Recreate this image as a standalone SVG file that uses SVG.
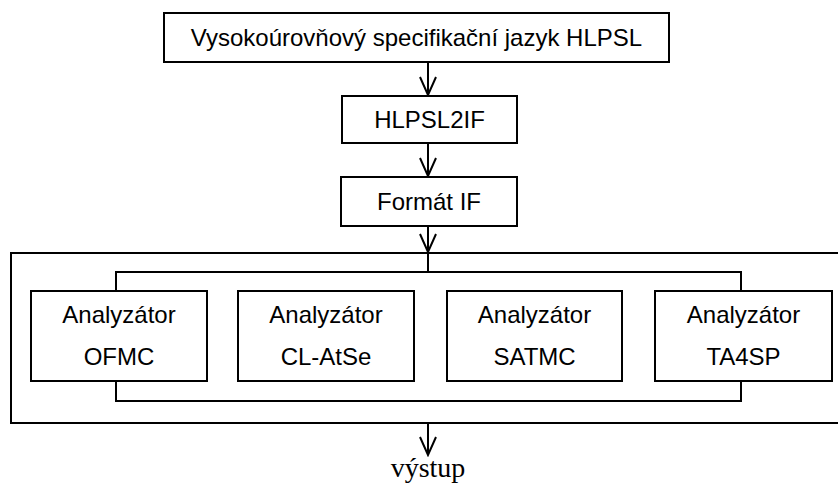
<svg xmlns="http://www.w3.org/2000/svg" width="838" height="484" viewBox="0 0 838 484">
  <style>
    .box { fill: #fff; stroke: #000; stroke-width: 2; }
    .frame { fill: none; stroke: #000; stroke-width: 2; }
    .wire { fill: none; stroke: #000; stroke-width: 2; }
    .lbl { font-family: "Liberation Sans", Arial, sans-serif; font-size: 24px; fill: #000; text-anchor: middle; }
    .out { font-family: "Liberation Serif", "Times New Roman", serif; font-size: 28px; fill: #000; text-anchor: middle; }
  </style>
  <defs>
    <marker id="vhead" viewBox="-20 -10 22 20" refX="0" refY="0" markerWidth="22" markerHeight="20" markerUnits="userSpaceOnUse" orient="auto">
      <path d="M-18,-8 L0,0 L-18,8" fill="none" stroke="#000" stroke-width="2"/>
    </marker>
  </defs>

  <rect class="frame" x="11" y="253" width="840" height="170"/>

  <g id="connectors">
    <line class="wire" x1="428" y1="62" x2="428" y2="95" marker-end="url(#vhead)"/>
    <line class="wire" x1="428" y1="143" x2="428" y2="176" marker-end="url(#vhead)"/>
    <line class="wire" x1="428" y1="226" x2="428" y2="252" marker-end="url(#vhead)"/>
    <polyline class="wire" points="428,253 428,272"/>
    <polyline class="wire" points="116,291 116,272 741,272 741,291"/>
    <polyline class="wire" points="116,381 116,401 741,401 741,381"/>
    <line class="wire" x1="428" y1="423" x2="428" y2="455" marker-end="url(#vhead)"/>
  </g>

  <g id="spec">
    <rect class="box" x="164" y="13" width="505" height="49"/>
    <text class="lbl" x="416.5" y="46">Vysokoúrovňový specifikační jazyk HLPSL</text>
  </g>
  <g id="translator">
    <rect class="box" x="342" y="96" width="175" height="47"/>
    <text class="lbl" x="429.5" y="128">HLPSL2IF</text>
  </g>
  <g id="format">
    <rect class="box" x="341" y="177" width="176" height="49"/>
    <text class="lbl" x="429" y="210">Formát IF</text>
  </g>
  <g id="ofmc">
    <rect class="box" x="31" y="291" width="176" height="90"/>
    <text class="lbl" x="119" y="323">Analyzátor</text>
    <text class="lbl" x="119" y="365">OFMC</text>
  </g>
  <g id="clatse">
    <rect class="box" x="238" y="291" width="176" height="90"/>
    <text class="lbl" x="326" y="323">Analyzátor</text>
    <text class="lbl" x="326" y="365">CL-AtSe</text>
  </g>
  <g id="satmc">
    <rect class="box" x="447" y="291" width="175" height="90"/>
    <text class="lbl" x="534.5" y="323">Analyzátor</text>
    <text class="lbl" x="534.5" y="365">SATMC</text>
  </g>
  <g id="ta4sp">
    <rect class="box" x="655" y="291" width="177" height="90"/>
    <text class="lbl" x="743.5" y="323">Analyzátor</text>
    <text class="lbl" x="743.5" y="365">TA4SP</text>
  </g>

  <text id="output" class="out" x="428" y="477">výstup</text>
</svg>
